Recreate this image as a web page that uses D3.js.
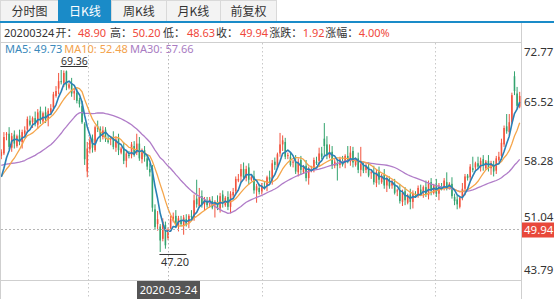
<!DOCTYPE html>
<html><head><meta charset="utf-8">
<script src="https://cdn.jsdelivr.net/npm/d3@7"></script>
<style>
html,body{margin:0;padding:0;background:#fff;}
svg{display:block;font-family:"Noto Sans","Noto Sans CJK SC",sans-serif;}
</style></head><body>
<svg id="c" width="554" height="299"></svg>
<script>
// ---------------- data ----------------
const tabs = ["分时图","日K线","周K线","月K线","前复权"];
const selectedTab = 1;
const selectedIndex = 64;
const selectedDate = "2020-03-24";
const infoDate = "20200324";
const infoLabels = ["开：","高：","低：","收：","涨跌：","涨幅："];
const changeValue = "1.92";
const changePct = "4.00%";
const yTicks = [72.77, 65.52, 58.28, 51.04, 43.79];
const maPeriods = [5, 10, 30];
const maNames = ["MA5","MA10","MA30"];

// closes before the first visible candle (for moving averages)
const prevCloses = [58.5,59.2,58.8,59.6,60.1,59.4,58.7,59.3,58.6,57.9,58.4,59.0,58.2,57.6,58.1,57.3,56.8,57.5,58.0,57.2,56.6,57.1,56.3,55.8,56.4,55.9,55.2,55.8,55.4];

const opens = [
58.9,59.2,61.5,61.6,59.9,61.5,60.1,61.4,60.6,61.6,
62.1,63.2,63.0,63.5,62.7,64.4,63.1,64.2,63.3,64.2,
64.8,66.2,67.1,68.0,67.8,69.2,67.2,67.7,66.5,66.6,
65.7,65.0,62.8,57.0,59.7,61.0,59.6,62.5,62.2,61.2,
62.1,60.8,60.9,61.1,59.9,61.1,59.3,59.9,58.3,59.0,
59.0,60.1,59.3,60.4,58.5,59.6,58.6,57.3,57.4,52.4,
50.6,50.3,48.8,50.5,48.90,50.1,51.0,51.6,50.5,51.1,
50.4,51.2,50.8,51.6,51.4,53.7,52.8,54.0,53.0,53.4,
53.0,53.4,52.9,53.3,52.5,54.2,52.9,53.9,52.7,54.1,
54.6,55.9,56.4,57.3,56.2,57.5,56.0,56.4,54.7,55.0,
54.6,55.1,55.3,56.3,55.9,58.2,57.5,59.2,60.3,60.6,
58.9,58.8,58.1,58.2,56.9,58.4,56.9,57.7,56.2,57.1,
57.3,58.2,58.3,59.2,61.0,60.3,58.8,59.4,57.7,58.0,
57.8,58.3,58.1,58.9,58.2,59.5,57.8,58.6,57.2,57.7,
57.2,57.5,56.8,56.9,55.6,57.1,55.7,56.6,55.3,55.9,
55.3,55.5,54.6,54.7,53.3,54.6,53.2,54.2,53.3,54.2,
54.2,54.8,54.5,55.1,54.1,55.7,54.4,55.4,54.3,55.1,
55.1,55.7,55.2,55.5,53.9,53.6,52.7,53.9,54.9,56.5,
56.3,57.4,57.5,58.0,57.5,58.5,57.4,58.3,57.4,57.8,
57.1,58.4,58.9,60.3,62.5,61.8,63.0,68.6,66.5,64.9];

const highs = [
59.7,61.8,61.8,62.4,61.7,62.0,61.5,62.1,62.1,62.5,
63.7,63.8,63.7,64.3,64.6,64.9,64.3,64.9,64.7,65.2,
66.7,67.4,69.0,69.36,69.3,69.3,67.8,68.4,67.1,67.1,
66.0,65.6,63.0,60.6,61.2,61.5,62.6,63.2,62.5,62.5,
62.4,61.4,61.3,61.9,61.3,61.6,60.0,60.6,59.5,59.5,
60.6,60.7,61.6,61.2,59.8,60.1,59.0,58.0,57.8,53.0,
52.2,50.6,51.3,50.9,50.20,51.6,52.0,52.3,51.6,51.6,
51.7,51.8,51.8,52.3,54.2,56.0,55.0,54.7,53.9,53.9,
53.9,54.0,53.5,54.1,54.4,54.7,54.0,54.6,54.6,55.0,
56.4,56.7,57.9,58.1,57.7,58.0,56.5,57.1,55.5,55.5,
55.6,55.7,56.5,57.1,58.4,58.7,59.3,61.7,61.4,61.1,
59.3,59.4,58.4,59.0,58.6,58.9,57.8,58.4,57.6,57.7,
58.7,58.8,59.9,60.0,62.9,61.3,60.3,60.1,58.5,58.5,
58.8,58.9,59.1,60.1,60.1,60.0,58.7,59.3,60.0,58.2,
58.0,58.1,57.1,57.7,57.3,57.6,56.7,57.3,56.4,56.4,
56.0,56.1,54.9,55.5,54.8,55.1,54.3,54.9,54.7,54.6,
55.3,55.4,55.3,55.9,55.9,56.2,55.5,56.1,55.6,55.6,
56.2,56.9,55.7,56.3,54.3,54.1,54.0,55.6,56.7,56.7,
57.9,58.8,58.2,58.8,58.7,59.0,58.4,59.0,58.3,58.3,
58.9,59.4,61.0,62.6,64.0,64.0,66.6,69.2,67.3,66.7];

const lows = [
58.5,59.0,60.8,59.7,59.4,59.8,59.9,60.2,59.8,61.3,
61.7,62.5,62.3,62.5,62.2,62.8,62.9,62.9,62.5,63.9,
64.4,66.0,66.4,67.6,67.3,66.9,67.0,66.1,65.7,65.3,
64.8,62.8,57.8,56.3,59.2,59.3,59.4,61.8,60.6,60.9,
60.6,60.4,60.2,59.7,59.4,59.0,59.1,57.9,57.5,58.6,
58.6,58.8,59.0,58.3,58.0,58.2,57.2,56.4,52.1,49.9,
49.8,47.20,48.5,47.6,48.63,49.7,50.8,50.1,49.7,50.3,
49.3,50.3,50.1,51.2,51.0,52.6,52.6,52.6,52.2,52.6,
52.6,52.4,51.4,52.3,52.0,52.6,52.7,52.3,51.9,53.8,
54.2,55.7,55.7,56.0,55.8,55.4,55.8,54.3,53.2,54.2,
54.2,54.8,54.6,55.7,55.4,57.2,57.3,58.8,59.5,58.5,
58.5,57.6,57.5,56.7,56.4,56.6,56.7,55.8,55.4,56.9,
56.9,57.8,57.6,58.5,59.0,58.5,58.6,57.3,57.4,55.9,
57.4,57.6,57.4,58.0,57.7,57.5,57.6,56.8,56.4,56.8,
56.8,56.3,56.1,55.4,55.1,55.4,55.5,54.9,54.5,54.9,
54.9,54.2,54.0,53.1,52.8,52.9,53.0,52.4,52.5,53.8,
53.8,54.0,53.8,53.9,53.6,54.1,54.2,53.9,53.5,54.7,
54.7,54.7,54.8,53.7,52.9,52.4,52.5,53.5,54.1,55.9,
55.9,56.9,57.2,57.3,57.0,57.1,57.2,57.0,56.6,56.4,
56.7,58.2,58.4,60.0,61.6,61.4,62.8,66.3,64.6,64.7];

const closes = [
59.4,61.2,61.6,60.0,61.3,60.4,61.3,60.6,61.8,62.0,
63.4,62.7,63.5,62.8,64.2,63.4,64.1,63.3,64.4,64.7,
66.4,66.8,68.0,67.9,69.0,67.5,67.6,66.5,66.8,65.6,
65.2,63.0,58.5,59.8,60.8,59.9,62.4,62.2,61.4,62.0,
61.0,60.6,61.1,60.0,60.9,59.6,59.8,58.3,59.2,58.9,
60.3,59.0,60.4,58.6,59.4,58.8,57.6,56.9,52.6,50.25,
51.2,48.6,50.89,48.02,49.94,51.2,51.5,50.5,51.3,50.6,
51.4,50.5,51.6,51.5,53.5,53.0,53.9,53.0,53.6,52.9,
53.6,52.6,53.3,52.6,54.0,53.2,53.8,52.7,54.3,54.5,
56.1,56.1,57.3,56.3,57.3,56.0,56.3,54.7,55.2,54.5,
55.3,55.0,56.3,56.0,58.0,57.8,59.1,60.3,60.8,58.8,
59.0,57.8,58.2,57.0,58.2,57.2,57.6,56.2,57.3,57.2,
58.4,58.0,59.2,58.8,60.1,59.1,59.3,57.7,58.2,57.7,
58.5,57.8,58.9,58.3,59.3,58.1,58.5,57.2,57.9,57.1,
57.7,56.5,56.9,55.7,56.9,56.0,56.5,55.3,56.1,55.2,
55.7,54.4,54.7,53.4,54.4,53.5,54.1,53.3,54.4,54.1,
55.0,54.2,55.1,54.2,55.5,54.7,55.3,54.3,55.3,55.0,
55.9,54.9,55.5,54.0,53.4,53.0,53.8,54.9,56.4,56.2,
57.6,57.2,58.0,57.6,58.3,57.7,58.2,57.4,58.0,57.0,
58.6,58.8,60.5,62.3,61.9,63.0,66.3,66.8,65.0,66.2];

// ---------------- styles / layout ----------------
const UP = "#f2533d", DOWN = "#33a36e";
const RED_TXT = "#f0483a";
const MA_COLORS = ["#2a80b6", "#f5a54a", "#b07cc8"];
const LEG_COLORS = ["#3a89bb", "#f3a24c", "#a97cc2"];
const BLUE = "#1a8bc8";
const W = 554, H = 299;
const plotL = 0, plotR = 521, plotT = 42, plotB = 280;

const svg = d3.select("#c");
const N = closes.length;

const x = d3.scaleBand().domain(d3.range(N)).range([plotL, plotR])
  .paddingInner(0.4).paddingOuter(0.2);
const cx = i => x(i) + x.bandwidth() / 2;
const y = d3.scaleLinear().domain([yTicks[yTicks.length-1], yTicks[0]]).range([plotB, plotT]);

// place a run of text pieces near preferred starts, never letting one run into the next
function placeRun(g, pieces, starts, yPos, size, gap) {
  let prevEnd = -Infinity;
  pieces.forEach((p, k) => {
    const sx = Math.max(starts[k], prevEnd + gap);
    const t = g.append("text").attr("x", sx).attr("y", yPos).attr("font-size", size)
      .attr("fill", p.color).text(p.text);
    if (p.family) t.attr("font-family", p.family);
    const b = t.node().getBBox();
    prevEnd = b.x + b.width;
  });
}

// ---------------- tab bar ----------------
const tabEdges = [0, 58, 111, 166, 220, 276];
const tabG = svg.append("g");
tabs.forEach((t, k) => {
  const x0 = tabEdges[k], x1 = tabEdges[k+1];
  tabG.append("rect").attr("x", x0 + 0.5).attr("y", 0.5).attr("width", x1 - x0).attr("height", 21)
    .attr("fill", k === selectedTab ? BLUE : "#f3f3f3")
    .attr("stroke", k === selectedTab ? BLUE : "#d9d9d9");
  tabG.append("text").attr("x", (x0 + x1) / 2 + 0.5).attr("y", 15.5)
    .attr("text-anchor", "middle").attr("font-size", 12)
    .attr("font-family", "'Noto Sans CJK SC','Noto Sans',sans-serif")
    .attr("fill", k === selectedTab ? "#fff" : "#333").text(t);
});
svg.append("rect").attr("x", 0).attr("y", 21).attr("width", W).attr("height", 2).attr("fill", BLUE);

// ---------------- frame ----------------
const frame = svg.append("g").attr("stroke", "#cfcfcf").attr("stroke-width", 1);
frame.append("line").attr("x1", 0).attr("x2", plotR).attr("y1", plotT + 0.5).attr("y2", plotT + 0.5);
frame.append("line").attr("x1", 0).attr("x2", plotR).attr("y1", plotB + 0.5).attr("y2", plotB + 0.5);
frame.append("line").attr("x1", 0.5).attr("x2", 0.5).attr("y1", 23).attr("y2", H);
frame.append("line").attr("x1", plotR + 0.5).attr("x2", plotR + 0.5).attr("y1", 23).attr("y2", H);

// vertical grid (dotted)
const grid = svg.append("g");
[1, 3, 5].forEach(k => {
  const gx = Math.round(plotR * k / 6) + 1.5;
  grid.append("line").attr("x1", gx).attr("x2", gx).attr("y1", plotT + 1).attr("y2", H)
    .attr("stroke", "#c8c8c8").attr("stroke-dasharray", "1.5,2.5");
});

// ---------------- info row ----------------
const sel = selectedIndex;
const infoValues = [opens[sel].toFixed(2), highs[sel].toFixed(2), lows[sel].toFixed(2), closes[sel].toFixed(2), changeValue, changePct];
const CJK = "'Noto Sans CJK SC',sans-serif";
const infoPieces = [{text: infoDate, color: "#333"}];
infoLabels.forEach((lab, k) => {
  infoPieces.push({text: lab, color: "#333", family: CJK});
  infoPieces.push({text: infoValues[k], color: RED_TXT});
});
placeRun(svg.append("g"), infoPieces,
  [4, 55, 78, 110, 132, 163, 187, 216, 240, 268, 298, 323, 355], 36.5, 11, 0.5);

// ---------------- moving averages ----------------
const allCloses = prevCloses.concat(closes);
const maSeries = maPeriods.map(p => closes.map((c, i) => {
  const j = i + prevCloses.length;
  return d3.mean(allCloses.slice(j - p + 1, j + 1));
}));

// clip
svg.append("clipPath").attr("id", "clip").append("rect")
  .attr("x", plotL + 1).attr("y", plotT + 1).attr("width", plotR - plotL - 1).attr("height", plotB - plotT - 1);
const plot = svg.append("g").attr("clip-path", "url(#clip)");

// candles
const candles = plot.append("g").selectAll("g").data(d3.range(N)).join("g")
  .attr("fill", i => closes[i] >= opens[i] ? UP : DOWN)
  .attr("stroke", i => closes[i] >= opens[i] ? UP : DOWN);
candles.append("line")
  .attr("x1", cx).attr("x2", cx)
  .attr("y1", i => y(highs[i])).attr("y2", i => y(lows[i]))
  .attr("stroke-width", 1);
candles.append("rect")
  .attr("x", i => x(i)).attr("width", x.bandwidth())
  .attr("y", i => y(Math.max(opens[i], closes[i])))
  .attr("height", i => Math.max(1, Math.abs(y(opens[i]) - y(closes[i]))))
  .attr("stroke", "none");

// MA lines
const line = d3.line().x((d, i) => cx(i)).y(d => y(d));
[2, 1, 0].forEach(k => {
  plot.append("path").datum(maSeries[k]).attr("d", line).attr("fill", "none")
    .attr("stroke", MA_COLORS[k]).attr("stroke-width", k === 0 ? 1.6 : 1.3)
    .attr("stroke-linejoin", "round");
});

// crosshair
const chx = Math.round(cx(sel)) + 0.5;
const chy = Math.round(y(closes[sel])) + 0.5;
svg.append("line").attr("x1", chx).attr("x2", chx).attr("y1", plotT + 1).attr("y2", plotB)
  .attr("stroke", "#b5b5b5").attr("stroke-dasharray", "1.5,2.5");
svg.append("line").attr("x1", 1).attr("x2", plotR).attr("y1", chy).attr("y2", chy)
  .attr("stroke", "#b5b5b5").attr("stroke-dasharray", "2,2");

// legend
const legPieces = maNames.map((nm, k) => ({text: nm + ": " + maSeries[k][sel].toFixed(2), color: LEG_COLORS[k]}));
placeRun(svg.append("g"), legPieces, [5, 64, 130], 52.5, 11, 2);

// max / min markers
const iMax = d3.maxIndex(highs), iMin = d3.minIndex(lows);
const mx = x(iMax), myv = y(highs[iMax]);
svg.append("line").attr("x1", mx).attr("x2", mx + 27).attr("y1", myv - 3.5).attr("y2", myv - 3.5)
  .attr("stroke", "#333").attr("stroke-width", 1);
svg.append("text").attr("x", mx + 0.5).attr("y", myv - 5).attr("font-size", 10.5).attr("fill", "#333")
  .text(highs[iMax].toFixed(2));
const nx = x(iMin), nyv = y(lows[iMin]);
svg.append("line").attr("x1", nx).attr("x2", nx + 27).attr("y1", nyv + 2.5).attr("y2", nyv + 2.5)
  .attr("stroke", "#333").attr("stroke-width", 1);
svg.append("text").attr("x", nx + 1.5).attr("y", nyv + 14.5).attr("font-size", 11).attr("fill", "#333")
  .text(lows[iMin].toFixed(2));

// right axis labels (the one nearest the price tag is clipped just above it, as in the original)
const tagTop = chy - 7;
svg.append("clipPath").attr("id", "axclip").append("rect")
  .attr("x", plotR + 1).attr("y", 0).attr("width", W - plotR).attr("height", tagTop);
const ax = svg.append("g").attr("font-size", 11.5).attr("fill", "#333");
yTicks.forEach((v, k) => {
  let ty = y(v) + 4;
  if (k === 0) ty = y(v) + 14;
  if (k === yTicks.length - 1) ty = y(v) - 6;
  const t = ax.append("text").attr("x", 524).attr("y", ty).text(v.toFixed(2));
  if (Math.abs(v - closes[sel]) < 2) t.attr("y", y(v) + 1).attr("clip-path", "url(#axclip)");
});

// current price tag
svg.append("rect").attr("x", plotR + 1).attr("y", tagTop).attr("width", W - plotR - 1).attr("height", 15)
  .attr("fill", "#e8483a");
svg.append("text").attr("x", 524).attr("y", chy + 4.5).attr("font-size", 11.5).attr("fill", "#fff")
  .text(closes[sel].toFixed(2));

// date tag
svg.append("rect").attr("x", chx - 31.5).attr("y", plotB + 1).attr("width", 63).attr("height", H - plotB - 1)
  .attr("fill", "#555");
svg.append("text").attr("x", chx).attr("y", plotB + 14).attr("text-anchor", "middle")
  .attr("font-size", 11).attr("fill", "#fff").text(selectedDate);
</script>
</body></html>
